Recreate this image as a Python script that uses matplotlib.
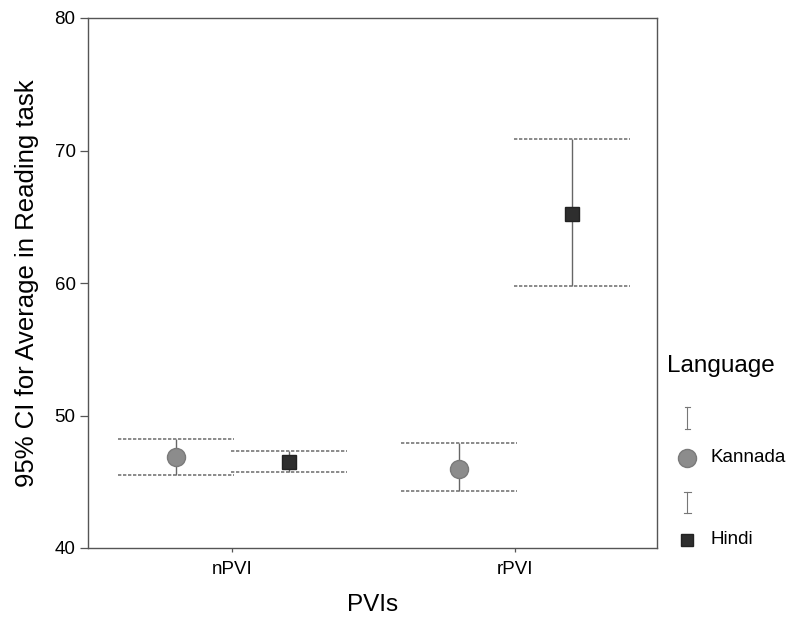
import matplotlib
matplotlib.use("Agg")
import matplotlib.pyplot as plt
from matplotlib.lines import Line2D
import numpy as np

plt.rcParams['font.family'] = ['Liberation Sans', 'DejaVu Sans']

# data (mean and 95% CI bounds)
categories = ['nPVI', 'rPVI']
languages = ['Kannada', 'Hindi']
kannada_mean = [46.9, 46.0]
kannada_low = [45.5, 44.3]
kannada_high = [48.2, 47.9]
hindi_mean = [46.5, 65.2]
hindi_low = [45.7, 59.8]
hindi_high = [47.35, 70.9]

W, H = 793, 644
fig = plt.figure(figsize=(W / 100, H / 100), dpi=100)
ax = fig.add_axes([88 / W, 1 - 548 / H, (657 - 88) / W, (548 - 18) / H])

x = np.arange(len(categories))
offset = 0.2
cap = 0.205

styles = {
    'Kannada': dict(marker='o', ms=13, mfc='#8c8c8c', mec='#7a7a7a'),
    'Hindi': dict(marker='s', ms=9.5, mfc='#2e2e2e', mec='#222222'),
}
series = {
    'Kannada': (kannada_mean, kannada_low, kannada_high, -offset),
    'Hindi': (hindi_mean, hindi_low, hindi_high, offset),
}

for name in languages:
    mean, low, high, dx = series[name]
    xs = x + dx
    ax.vlines(xs, low, high, color='#666666', lw=1.0, zorder=2)
    ax.hlines(low, xs - cap, xs + cap, color='#777777', lw=1.2,
              linestyle=(0, (2, 1)), zorder=2)
    ax.hlines(high, xs - cap, xs + cap, color='#777777', lw=1.2,
              linestyle=(0, (2, 1)), zorder=2)
    ax.plot(xs, mean, ls='none', zorder=3, **styles[name])

ax.set_xlim(-0.51, 1.5)
ax.set_ylim(40, 80)
ax.set_xticks(x)
ax.set_xticklabels(categories)
ax.set_yticks([40, 50, 60, 70, 80])
ax.tick_params(axis='y', labelsize=13.5, length=6, width=0.9, color='#555555', pad=3)
ax.tick_params(axis='x', labelsize=13.5, length=3, width=0.9, color='#555555', pad=6)
for s in ax.spines.values():
    s.set_color('#555555')
    s.set_linewidth(1.0)

ax.set_xlabel('PVIs', fontsize=17.5, labelpad=12)
ax.set_ylabel('95% CI for Average in Reading task', fontsize=18.5, labelpad=11)


# manual legend, positions in pixels from top-left
def fx(px):
    return px / W


def fy(py):
    return 1 - py / H


fig.text(fx(667), fy(366), 'Language', fontsize=17.5, va='center', ha='left')


def ibeam(xc, y0, y1, half):
    fig.add_artist(Line2D([fx(xc), fx(xc)], [fy(y0), fy(y1)],
                          color='#777777', lw=0.8, transform=fig.transFigure))
    for yy in (y0, y1):
        fig.add_artist(Line2D([fx(xc - half), fx(xc + half)], [fy(yy), fy(yy)],
                              color='#777777', lw=0.8, transform=fig.transFigure))


ibeam(687, 407, 429, 2.5)
ibeam(687, 492, 513, 3.5)
fig.add_artist(Line2D([fx(687)], [fy(458)], ls='none', transform=fig.transFigure,
                      **styles['Kannada']))
fig.add_artist(Line2D([fx(687)], [fy(540)], ls='none', transform=fig.transFigure,
                      **dict(styles['Hindi'], ms=8)))
fig.text(fx(711), fy(458), languages[0], fontsize=13.5, va='center', ha='left')
fig.text(fx(711), fy(540), languages[1], fontsize=13.5, va='center', ha='left')

fig.savefig('out.png', dpi=100)
